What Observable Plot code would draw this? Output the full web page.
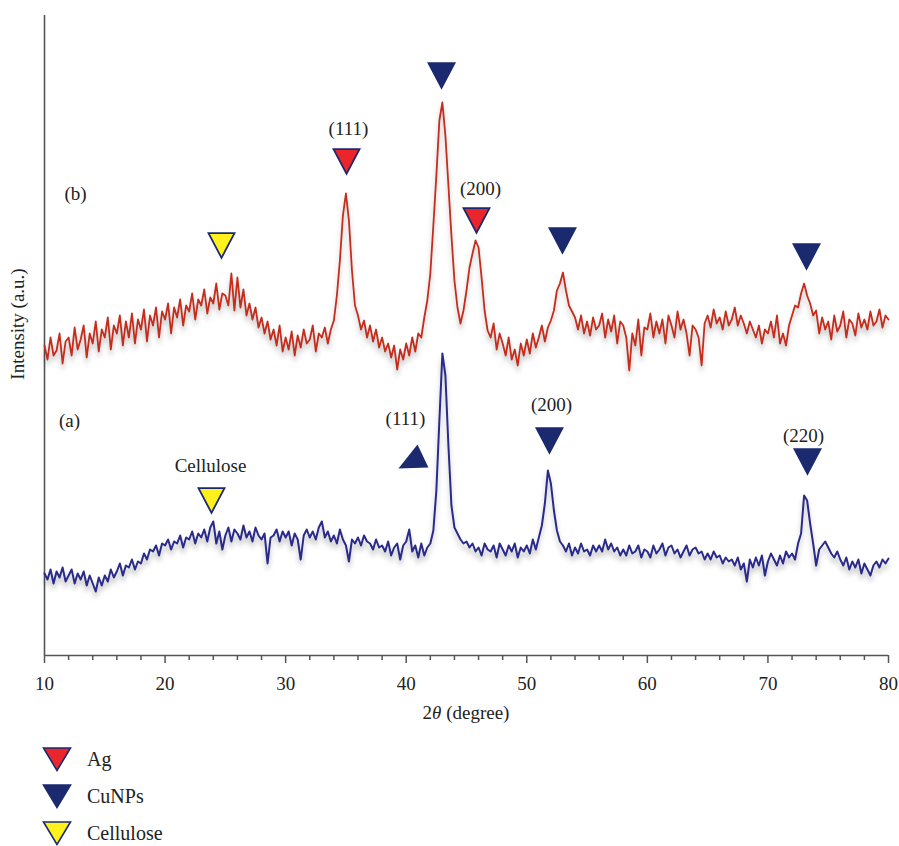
<!DOCTYPE html>
<html><head><meta charset="utf-8">
<script src="https://cdn.jsdelivr.net/npm/d3@7"></script>
<script src="https://cdn.jsdelivr.net/npm/@observablehq/plot@0.6"></script>
<style>
body{margin:0;background:#fff;font-family:"Liberation Serif","Times New Roman",serif;}
#chart g[aria-label="line"] path{filter:drop-shadow(0px 5px 2.5px rgba(0,0,0,0.25));}
#legend{position:relative;height:111px;width:899px;}
.item{position:absolute;left:42px;display:flex;align-items:center;font-size:20px;color:#222;height:26px;}
.item span{margin-left:15px;}
</style></head><body>
<div id="chart"></div>
<div id="legend"></div>
<script>
// 2θ grid: 10° to 80°, step 0.25°
const thetaStart = 10, thetaStep = 0.25;
// (b) Ag/CuNPs on cellulose — intensity (a.u.), 4 samples per degree
const sampleB = [
 310,296,318,300, 305,322,292,314, 318,300,328,306, 316,330,298,322, 312,334,304,326,
 318,338,306,330, 322,340,310,334, 318,342,312,336, 326,346,314,340, 330,348,318,344,
 336,352,322,348, 338,356,330,350, 344,362,336,356, 350,366,342,358, 352,372,346,362,
 360,350,382,345, 378,348,366,340, 352,336,348,328, 338,322,334,316, 326,310,330,304,
 318,306,324,300, 320,308,326,312, 316,330,304,322, 318,328,312,326, 335,360,395,440,
 462,435,385,350, 340,326,335,318, 330,314,326,308, 318,304,312,298, 310,286,306,296,
 312,300,318,304, 322,318,338,355, 382,430,480,535, 553,520,470,420, 375,348,332,345,
 365,388,402,415, 408,378,345,325, 318,332,306,322, 312,300,318,296, 306,290,312,300,
 316,302,322,308, 318,330,314,328, 335,345,365,372, 383,365,350,344, 338,326,340,322,
 334,320,338,326, 330,342,318,336, 324,340,312,334, 330,318,285,322, 310,336,300,328,
 326,342,318,334, 322,336,312,340, 330,318,344,326, 336,322,300,330, 326,318,290,332,
 340,328,346,332, 338,326,344,330, 336,348,330,340, 332,322,334,326, 318,330,312,326,
 322,334,318,340, 312,322,310,330, 340,350,348,362, 372,360,352,340, 345,322,338,326,
 334,316,340,324, 330,344,318,336, 332,320,342,328, 336,326,344,330, 334,346,328,340,
 336
];
// (a) cellulose + CuNPs — intensity (a.u.)
const sampleA = [
 82,76,86,72, 84,78,88,74, 80,86,72,82, 76,84,70,80, 72,64,78,70,
 80,74,86,78, 84,92,80,90, 88,96,86,94, 92,102,96,106, 104,110,100,112,
 110,116,106,114, 112,120,108,118, 116,124,112,122, 118,126,114,128, 134,112,124,106,
 120,128,114,126, 122,116,130,118, 124,114,128,120, 116,122,92,118, 120,126,114,124,
 118,124,110,122, 116,96,120,126, 118,124,116,128, 134,118,124,114, 120,112,126,116,
 110,94,116,112, 118,110,120,114, 112,106,116,108, 110,104,114,100, 108,112,96,110,
 114,126,104,110, 98,112,100,108, 112,125,165,235, 302,280,210,150, 128,122,116,112,
 114,108,112,104, 108,100,112,106, 104,110,98,112, 106,100,110,104, 112,98,108,104,
 110,102,116,106, 118,130,152,185, 172,145,125,114, 110,104,112,100, 108,102,112,104,
 106,100,110,104, 110,104,116,106, 112,104,108,100, 106,100,110,102, 104,110,98,106,
 104,98,110,102, 106,112,100,108, 110,102,106,98, 104,110,100,106, 108,102,104,96,
 102,96,104,98, 100,92,98,94, 96,90,98,86, 92,74,96,88, 98,90,100,80,
 94,102,96,90, 100,92,104,98, 102,96,112,122, 160,155,132,112, 90,106,110,114,
 108,102,98,104, 96,90,98,86, 94,88,96,82, 92,86,80,90, 94,88,96,92,
 97
];
// Peak markers
const markerTheta     = [24.68, 35.05, 42.93, 45.83, 52.96, 73.2, 23.85, 51.88, 73.28];
const markerIntensity = [410,   494,   580,   435,   415,   399,  155,   215,   194];
const markerKind      = ["Cellulose","Ag","CuNPs","Ag","CuNPs","CuNPs","Cellulose","CuNPs","CuNPs"];
const cu111Theta = [40.6], cu111Intensity = [199];
// Annotations
const labelText      = ["(b)", "(111)", "(200)", "(a)", "Cellulose", "(111)", "(200)", "(220)"];
const labelTheta     = [12.57, 35.21, 46.16, 12.07, 23.77, 39.94, 52.05, 72.95];
const labelIntensity = [462,   527,   467,   235,   190,   237,   251,   220];
// Axis ticks
const majorTicks = [10, 20, 30, 40, 50, 60, 70, 80];
const minorTicks = [12,14,16,18,22,24,26,28,32,34,36,38,42,44,46,48,52,54,56,58,62,64,66,68,72,74,76,78];
const legendNames = ["Ag", "CuNPs", "Cellulose"];

const navy = "#1b2a6e";
const kindFill = {"Ag": "#e8262b", "CuNPs": navy, "Cellulose": "#fff21c"};

const rows = sampleB.map((b, i) => ({t: thetaStart + i * thetaStep, b, a: sampleA[i]}));
const markers = markerTheta.map((t, i) => ({t, v: markerIntensity[i], kind: markerKind[i]}));
const cu111 = cu111Theta.map((t, i) => ({t, v: cu111Intensity[i]}));
const labels = labelText.map((s, i) => ({s, t: labelTheta[i], v: labelIntensity[i]}));

const downTri = {draw(ctx, size) {
  const r = Math.sqrt(size / Math.PI), h = 1.9 * r;
  ctx.moveTo(-r, -h / 2); ctx.lineTo(r, -h / 2); ctx.lineTo(0, h / 2); ctx.closePath();
}};
const skewUpTri = {draw(ctx, size) {
  const r = Math.sqrt(size / Math.PI);
  ctx.moveTo(-r, 0.8 * r); ctx.lineTo(0.27 * r, -0.8 * r); ctx.lineTo(r, 0.73 * r); ctx.closePath();
}};

const W = 899, H = 735;
const FS = 19;
const chart = Plot.plot({
  width: W, height: H,
  marginLeft: 44, marginRight: 11, marginTop: 15, marginBottom: 80,
  style: {fontFamily: '"Liberation Serif", "Times New Roman", serif', fontSize: FS + "px", color: "#222", background: "#fff", overflow: "visible"},
  x: {domain: [10, 80]},
  y: {domain: [0, 640], axis: null},
  marks: [
    Plot.ruleX([10], {stroke: "#555", strokeWidth: 1.6}),
    Plot.ruleY([0], {stroke: "#555", strokeWidth: 1.6}),
    Plot.axisX({ticks: minorTicks, tickSize: 5, tickFormat: () => "", label: null, stroke: "#555", strokeWidth: 1.5}),
    Plot.axisX({ticks: majorTicks, tickSize: 8, tickPadding: 13, tickFormat: d => String(d), label: null, stroke: "#555", strokeWidth: 1.5, fill: "#222", fontSize: FS}),
    Plot.line(rows, {x: "t", y: "b", stroke: "#c42c1c", strokeWidth: 1.8}),
    Plot.line(rows, {x: "t", y: "a", stroke: "#2a2a8a", strokeWidth: 2}),
    Plot.dot(markers, {x: "t", y: "v", symbol: downTri, r: 13, fill: d => kindFill[d.kind], stroke: navy, strokeWidth: 1.8}),
    Plot.dot(cu111, {x: "t", y: "v", symbol: skewUpTri, r: 15, fill: navy}),
    Plot.text(labels, {x: "t", y: "v", text: "s", fontSize: FS, fill: "#222"})
  ]
});
document.getElementById("chart").append(chart);

const svg = d3.select(chart);
const xs = chart.scale("x").range;
const ys = chart.scale("y").range;
const xl = svg.append("text")
  .attr("x", (xs[0] + xs[1]) / 2).attr("y", ys[0] + 64)
  .attr("text-anchor", "middle").attr("fill", "#222").style("font-size", FS + "px");
xl.append("tspan").text("2");
xl.append("tspan").attr("font-style", "italic").text("θ");
xl.append("tspan").text(" (degree)");
svg.append("text")
  .attr("transform", `translate(${xs[0] - 20},${(ys[0] + ys[1]) / 2 - 11}) rotate(-90)`)
  .attr("text-anchor", "middle").attr("fill", "#222").style("font-size", FS + "px")
  .text("Intensity (a.u.)");

const legend = document.getElementById("legend");
legendNames.forEach((name, i) => {
  const item = document.createElement("div");
  item.className = "item";
  item.style.top = (11 + i * 37) + "px";
  item.innerHTML = `<svg width="30" height="26"><polygon points="1.5,2 28.5,2 15,24.5" fill="${kindFill[name]}" stroke="${navy}" stroke-width="1.6" stroke-linejoin="miter"/></svg><span>${name}</span>`;
  legend.append(item);
});
</script></body></html>
